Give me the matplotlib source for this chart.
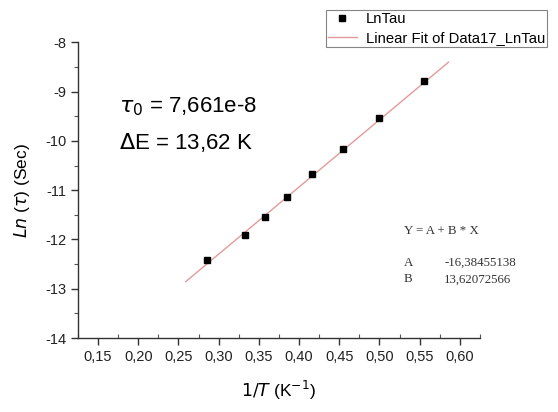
import numpy as np
import matplotlib
matplotlib.use("Agg")
import matplotlib.pyplot as plt
from matplotlib.ticker import MultipleLocator, FuncFormatter

# Arrhenius data: inverse temperature and log relaxation time
inv_T = [0.2857, 0.3333, 0.3571, 0.3846, 0.4167, 0.4545, 0.5000, 0.5556]
ln_tau = [-12.41, -11.92, -11.535, -11.136, -10.676, -10.163, -9.541, -8.778]

# Linear fit parameters Y = A + B*X
fit_A = -16.38455138
fit_B = 13.62072566
fit_range = [0.259, 0.586]

plt.rcParams['font.family'] = ['Liberation Sans', 'DejaVu Sans']

fig = plt.figure(figsize=(5.58, 4.12), dpi=100)
ax = fig.add_axes([0.1398, 0.1796, 0.7202, 0.7177])

xf = np.array(fit_range)
ax.plot(xf, fit_A + fit_B * xf, color='#e39a9a', lw=1.0,
        label='Linear Fit of Data17_LnTau', zorder=2)
ax.plot(inv_T, ln_tau, 's', color='black', ms=4.6, ls='none',
        label='LnTau', zorder=3)

ax.set_xlim(0.125, 0.625)
ax.set_ylim(-14, -8)
ax.xaxis.set_major_locator(MultipleLocator(0.05))
ax.xaxis.set_minor_locator(MultipleLocator(0.025))
ax.yaxis.set_major_locator(MultipleLocator(1))
ax.yaxis.set_minor_locator(MultipleLocator(0.5))

comma = lambda fmt: FuncFormatter(lambda v, p: (fmt % v).replace('.', ','))
ax.xaxis.set_major_formatter(comma('%.2f'))
ax.yaxis.set_major_formatter(FuncFormatter(lambda v, p: '%d' % round(v)))

for s in ['top', 'right']:
    ax.spines[s].set_visible(False)
for s in ['left', 'bottom']:
    ax.spines[s].set_color('#333333')
    ax.spines[s].set_linewidth(1.0)

ax.tick_params(axis='both', which='major', direction='out', length=5,
               width=1, color='#333333', labelsize=10.5, labelcolor='#222222')
ax.tick_params(axis='x', which='minor', direction='in', length=3, width=0.8,
               color='#555555')
ax.tick_params(axis='y', which='minor', direction='out', length=3, width=0.8,
               color='#555555')

ax.set_xlabel(r'$\it{1/T}$ (K$^{\mathsf{-1}}$)', fontsize=12.5, labelpad=11)
ax.set_ylabel(r'$\it{Ln}$ ($\tau$) (Sec)', fontsize=12.5, labelpad=9)

ax.text(0.176, -9.31, r'$\tau_{\mathsf{0}}$ = 7,661e-8', fontsize=16,
        va='center', ha='left')
ax.text(0.176, -10.04, r'$\Delta$E = 13,62 K', fontsize=16,
        va='center', ha='left')

serif = ['Liberation Serif', 'DejaVu Serif']
fs = 9.3
ax.text(0.5302, -11.83, 'Y = A + B * X', fontsize=fs, family=serif,
        va='center', ha='left', color='#333333')
ax.text(0.5302, -12.48, 'A', fontsize=fs, family=serif, va='center',
        ha='left', color='#333333')
ax.text(0.5808, -12.48, '-16,38455138', fontsize=fs, family=serif,
        va='center', ha='left', color='#333333')
ax.text(0.5302, -12.81, 'B', fontsize=fs, family=serif, va='center',
        ha='left', color='#333333')
ax.text(0.5808, -12.81, '13,62072566', fontsize=fs, family=serif,
        va='center', ha='left', color='#333333')

handles, labels = ax.get_legend_handles_labels()
leg = fig.legend(handles[::-1], labels[::-1], loc='upper left',
                 bbox_to_anchor=(326 / 558, 1 - 10 / 412), fontsize=10.6,
                 frameon=True, fancybox=False, edgecolor='#666666',
                 borderpad=0.12, handlelength=2.0, handletextpad=0.6,
                 labelspacing=0.38, borderaxespad=0)
leg.get_frame().set_linewidth(0.8)

fig.savefig('out.png', dpi=100, facecolor='white')
